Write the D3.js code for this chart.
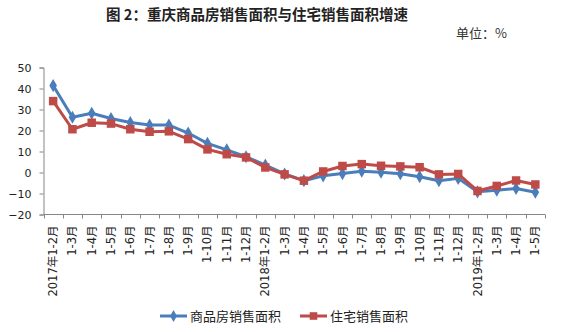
<!DOCTYPE html>
<html>
<head>
<meta charset="utf-8">
<script src="https://cdn.jsdelivr.net/npm/d3@7"></script>
<style>
  html, body { margin: 0; padding: 0; background: #fff; }
  svg { display: block; }
</style>
</head>
<body>
<div id="chart"></div>
<script>
// Month periods (cumulative from January)
const categories = [
  "2017年1-2月","1-3月","1-4月","1-5月","1-6月","1-7月","1-8月","1-9月","1-10月","1-11月","1-12月",
  "2018年1-2月","1-3月","1-4月","1-5月","1-6月","1-7月","1-8月","1-9月","1-10月","1-11月","1-12月",
  "2019年1-2月","1-3月","1-4月","1-5月"
];
// Year-on-year growth, %
const commercialArea = [41.4, 26.3, 28.2, 25.7, 23.8, 22.6, 22.6, 18.8, 13.9, 10.8, 7.5, 3.5,
  -0.7, -3.9, -1.6, -0.5, 0.6, 0.1, -0.6, -2.0, -3.9, -2.8, -9.2, -8.4, -7.6, -9.4];
const residentialArea = [34.0, 20.6, 23.7, 23.3, 20.6, 19.4, 19.6, 15.9, 11.0, 8.7, 7.2, 2.4,
  -0.9, -3.9, 0.5, 3.1, 4.0, 3.2, 2.9, 2.5, -0.9, -0.7, -8.8, -6.4, -3.8, -5.7];
const yTicks = [-20, -10, 0, 10, 20, 30, 40, 50];
const seriesNames = ["商品房销售面积", "住宅销售面积"];

const W = 576, H = 332;
const svg = d3.select("#chart").append("svg").attr("width", W).attr("height", H);

const x = d3.scaleBand().domain(d3.range(categories.length)).range([43.5, 545]);
const y = d3.scaleLinear().domain([-20, 50]).range([214.5, 67.5]);

const axisColor = "#868686";
const font = "'DejaVu Sans', 'Noto Sans CJK SC', sans-serif";

// Title
svg.append("text")
  .attr("x", 257).attr("y", 20)
  .attr("text-anchor", "middle")
  .attr("font-family", "'Noto Sans CJK SC', sans-serif")
  .attr("font-weight", "bold")
  .attr("font-size", 14.5)
  .attr("fill", "#222")
  .text("图 2：重庆商品房销售面积与住宅销售面积增速");

svg.append("text")
  .attr("x", 507).attr("y", 38)
  .attr("text-anchor", "end")
  .attr("font-family", "'Noto Sans CJK SC', sans-serif")
  .attr("font-size", 13)
  .attr("fill", "#333")
  .text("单位：%");

// Y axis
const yAxis = d3.axisLeft(y).tickValues(yTicks).tickSize(4).tickPadding(8);
const gy = svg.append("g").attr("transform", "translate(43.5,0)").call(yAxis);
gy.select(".domain").attr("stroke", axisColor);
gy.selectAll(".tick line").attr("stroke", axisColor);
gy.selectAll(".tick text").attr("font-family", font).attr("font-size", 11).attr("fill", "#222");

// X axis: ticks at category boundaries
const gx = svg.append("g").attr("transform", `translate(0,${y(-20)})`);
gx.append("line").attr("x1", x.range()[0]).attr("x2", x.range()[1])
  .attr("stroke", axisColor);
const bounds = d3.range(categories.length + 1).map(i => x.range()[0] + i * x.step());
gx.selectAll("line.tk").data(bounds).join("line").attr("class", "tk")
  .attr("x1", d => Math.round(d) + 0.5).attr("x2", d => Math.round(d) + 0.5)
  .attr("y1", 0).attr("y2", 4).attr("stroke", axisColor);
gx.selectAll("text").data(categories).join("text")
  .attr("transform", (d, i) => `translate(${x(i) + x.bandwidth() / 2},11) rotate(-90)`)
  .attr("text-anchor", "end")
  .attr("dy", "0.35em")
  .attr("font-family", font).attr("font-size", 11.5).attr("fill", "#222")
  .text(d => d);

// Series
const cx = i => x(i) + x.bandwidth() / 2;
const line = d3.line().x((d, i) => cx(i)).y(d => y(d));
const series = [
  { name: seriesNames[0], values: commercialArea, color: "#4A7EBB", marker: d3.symbolDiamond, size: 50 },
  { name: seriesNames[1], values: residentialArea, color: "#BE4B48", marker: d3.symbolSquare, size: 72 }
];

series.forEach(s => {
  const g = svg.append("g");
  g.append("path").datum(s.values)
    .attr("d", line).attr("fill", "none")
    .attr("stroke", s.color).attr("stroke-width", 3)
    .attr("stroke-linejoin", "round");
  g.selectAll("path.m").data(s.values).join("path").attr("class", "m")
    .attr("transform", (d, i) => `translate(${cx(i)},${y(d)})`)
    .attr("d", d3.symbol().type(s.marker).size(s.size))
    .attr("fill", s.color);
});

// Legend
const legendItems = [
  { s: series[0], x0: 160, tx: 190 },
  { s: series[1], x0: 300, tx: 330 }
];
const ly = 316;
legendItems.forEach(({ s, x0, tx }) => {
  svg.append("line").attr("x1", x0).attr("x2", x0 + 27).attr("y1", ly).attr("y2", ly)
    .attr("stroke", s.color).attr("stroke-width", 3);
  svg.append("path").attr("transform", `translate(${x0 + 13.5},${ly})`)
    .attr("d", d3.symbol().type(s.marker).size(s.size * 0.8)).attr("fill", s.color);
  svg.append("text").attr("x", tx).attr("y", ly).attr("dy", "0.36em")
    .attr("font-family", "'Noto Sans CJK SC', sans-serif").attr("font-size", 13).attr("fill", "#222")
    .text(s.name);
});
</script>
</body>
</html>
